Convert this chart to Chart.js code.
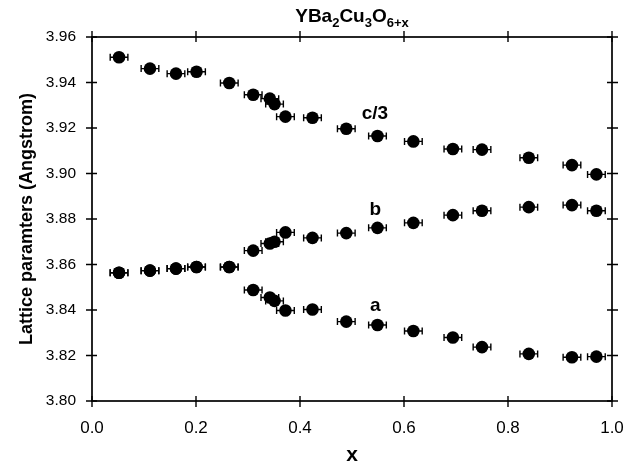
<!DOCTYPE html>
<html>
<head>
<meta charset="utf-8">
<script src="https://cdn.jsdelivr.net/npm/chart.js@4/dist/chart.umd.min.js"></script>
<style>
html,body{margin:0;padding:0;background:#fff;}
#wrap{width:641px;height:468px;}
</style>
</head>
<body>
<div id="wrap"><canvas id="c" width="641" height="468"></canvas></div>
<script>
// ---- data ----
const xValues = [0.052,0.1115,0.1615,0.201,0.264,0.310,0.342,0.351,0.372,0.424,0.489,0.549,0.618,0.694,0.750,0.840,0.923,0.970];
const cOver3 = [3.9511,3.9461,3.9439,3.9447,3.9398,3.9346,3.9329,3.9305,3.9250,3.9245,3.9197,3.9165,3.9141,3.9108,3.9105,3.9069,3.9037,3.8996];
const bParam = [3.8564,3.8573,3.8582,3.8589,3.8589,3.8661,3.8692,3.8700,3.8741,3.8717,3.8738,3.8761,3.8783,3.8817,3.8836,3.8852,3.8861,3.8836];
const aParam = [3.8564,3.8573,3.8582,3.8589,3.8589,3.8488,3.8455,3.8440,3.8398,3.8402,3.8349,3.8334,3.8308,3.8279,3.8237,3.8207,3.8192,3.8195];
const xError = 0.017;
const seriesNames = ['c/3','b','a'];
const labelX = [0.544,0.545,0.545];
const labelY = [3.9262,3.8841,3.8417];
const xTickLabels = ['0.0','0.2','0.4','0.6','0.8','1.0'];
const yTickLabels = ['3.80','3.82','3.84','3.86','3.88','3.90','3.92','3.94','3.96'];

function pts(ys){ return xValues.map((x,i)=>({x:x,y:ys[i]})); }

const errorBars = {
  id:'errorBars',
  beforeDatasetsDraw(chart){
    const ctx = chart.ctx, xs = chart.scales.x, ys = chart.scales.y;
    ctx.save();
    ctx.strokeStyle = '#000';
    ctx.lineWidth = 1.4;
    chart.data.datasets.forEach(ds=>{
      ds.data.forEach(p=>{
        const y = ys.getPixelForValue(p.y);
        const x1 = xs.getPixelForValue(p.x - xError);
        const x2 = xs.getPixelForValue(p.x + xError);
        ctx.beginPath();
        ctx.moveTo(x1,y); ctx.lineTo(x2,y);
        ctx.moveTo(x1,y-3.5); ctx.lineTo(x1,y+3.5);
        ctx.moveTo(x2,y-3.5); ctx.lineTo(x2,y+3.5);
        ctx.stroke();
      });
    });
    ctx.restore();
  }
};

const frame = {
  id:'frame',
  afterDraw(chart){
    const ctx = chart.ctx, a = chart.chartArea, xs = chart.scales.x, ys = chart.scales.y;
    ctx.save();
    ctx.strokeStyle = '#000';
    ctx.lineWidth = 1.7;
    ctx.strokeRect(a.left, a.top, a.right-a.left, a.bottom-a.top);
    ctx.lineWidth = 1.4;
    ctx.beginPath();
    xs.ticks.forEach(t=>{
      const px = xs.getPixelForValue(t.value);
      ctx.moveTo(px, a.bottom-5); ctx.lineTo(px, a.bottom+6);
      ctx.moveTo(px, a.top-6); ctx.lineTo(px, a.top+5);
    });
    ys.ticks.forEach(t=>{
      const py = ys.getPixelForValue(t.value);
      ctx.moveTo(a.left-6, py); ctx.lineTo(a.left+5, py);
      ctx.moveTo(a.right-5, py); ctx.lineTo(a.right+6, py);
    });
    ctx.stroke();
    // series labels
    ctx.fillStyle = '#000';
    ctx.font = 'bold 19px "Liberation Sans", Arial, sans-serif';
    ctx.textAlign = 'center';
    ctx.textBaseline = 'middle';
    seriesNames.forEach((n,i)=>{
      ctx.fillText(n, xs.getPixelForValue(labelX[i]), ys.getPixelForValue(labelY[i]));
    });
    // title with subscripts
    const parts = [['YBa',0],['2',1],['Cu',0],['3',1],['O',0],['6+x',1]];
    const mainF = 'bold 19px "Liberation Sans", Arial, sans-serif';
    const subF = 'bold 13px "Liberation Sans", Arial, sans-serif';
    let w = 0;
    parts.forEach(p=>{ ctx.font = p[1]?subF:mainF; w += ctx.measureText(p[0]).width; });
    let x = (a.left + a.right)/2 - w/2;
    const base = 22;
    ctx.textAlign = 'left';
    ctx.textBaseline = 'alphabetic';
    parts.forEach(p=>{
      ctx.font = p[1]?subF:mainF;
      ctx.fillText(p[0], x, p[1]? base+5 : base);
      x += ctx.measureText(p[0]).width;
    });
    ctx.restore();
  }
};

const mk = (label, ys) => ({
  label: label,
  data: pts(ys),
  pointRadius: 6.3,
  pointHoverRadius: 6.3,
  pointBackgroundColor: '#000',
  pointBorderColor: '#000',
  pointBorderWidth: 0,
  showLine: false
});

new Chart(document.getElementById('c'), {
  type: 'scatter',
  data: { datasets: [mk('c/3', cOver3), mk('b', bParam), mk('a', aParam)] },
  options: {
    responsive: false,
    animation: false,
    devicePixelRatio: 1,
    layout: { padding: { top: 37, right: 29, left: 0, bottom: 0 } },
    plugins: { legend: { display: false }, tooltip: { enabled: false }, title: { display: false } },
    scales: {
      x: {
        type: 'linear', min: 0, max: 1,
        afterFit(s){ s.height = 67; },
        grid: { display: false, drawTicks: false },
        border: { display: false },
        ticks: { stepSize: 0.2, padding: 17, color: '#000',
          font: { family: '"Liberation Sans", Arial, sans-serif', size: 17 },
          callback: (v,i) => xTickLabels[i] },
        title: { display: true, text: 'x', color: '#000', padding: { bottom: 0, top: 0 },
          font: { family: '"Liberation Sans", Arial, sans-serif', size: 21, weight: 'bold' } }
      },
      y: {
        type: 'linear', min: 3.80, max: 3.96,
        afterFit(s){ s.width = 92; },
        grid: { display: false, drawTicks: false },
        border: { display: false },
        ticks: { stepSize: 0.02, padding: 16, color: '#000',
          font: { family: '"Liberation Sans", Arial, sans-serif', size: 15.5 },
          callback: (v,i) => yTickLabels[i] },
        title: { display: true, text: 'Lattice paramters (Angstrom)', color: '#000', padding: { top: 16, bottom: 0 },
          font: { family: '"Liberation Sans", Arial, sans-serif', size: 18, weight: 'bold' } }
      }
    }
  },
  plugins: [errorBars, frame]
});
</script>
</body>
</html>
